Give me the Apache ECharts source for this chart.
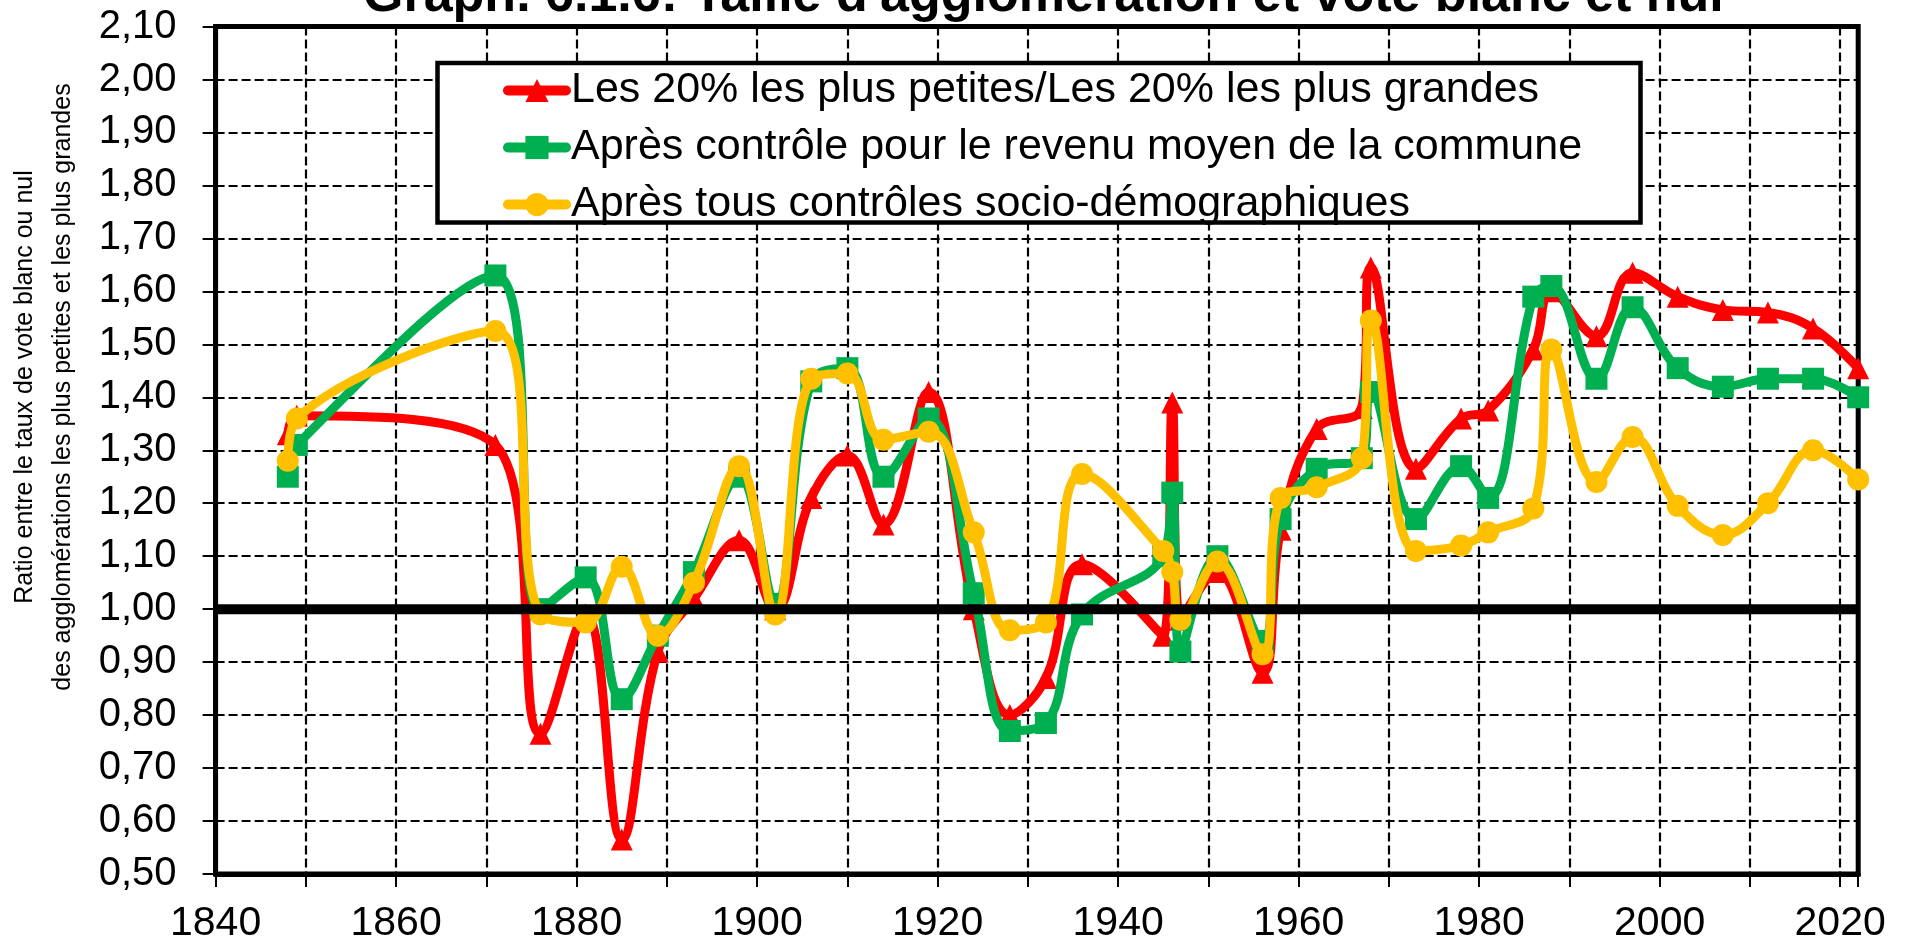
<!DOCTYPE html>
<html lang="fr">
<head>
<meta charset="utf-8">
<title>Taille d'agglomération et vote blanc et nul</title>
<script src="https://cdn.jsdelivr.net/npm/echarts@6/dist/echarts.min.js"></script>
<style>
  html, body { margin: 0; padding: 0; background: #ffffff; }
  #chart { width: 1905px; height: 945px; }
</style>
</head>
<body>
<div id="chart"></div>
<script>
// Élections législatives (1946.9 = novembre 1946)
const years = [1848, 1849, 1871, 1876, 1881, 1885, 1889, 1893, 1898, 1902, 1906, 1910, 1914, 1919, 1924, 1928, 1932, 1936, 1945, 1946, 1946.9, 1951, 1956, 1958, 1962, 1967, 1968, 1973, 1978, 1981, 1986, 1988, 1993, 1997, 2002, 2007, 2012, 2017, 2022];

// Ratio brut : 20% des agglomérations les plus petites / 20% les plus grandes
const petitesGrandes = [1.33, 1.365, 1.31, 0.765, 0.99, 0.565, 0.92, 1.02, 1.13, 1.00, 1.21, 1.29, 1.16, 1.41, 1.00, 0.80, 0.87, 1.085, 0.95, 1.39, 0.98, 1.07, 0.88, 1.15, 1.34, 1.38, 1.645, 1.265, 1.36, 1.375, 1.49, 1.60, 1.515, 1.635, 1.59, 1.565, 1.56, 1.53, 1.455];

// Après contrôle pour le revenu moyen de la commune
const controleRevenu = [1.25, 1.31, 1.63, 1.00, 1.06, 0.83, 0.95, 1.07, 1.25, 1.01, 1.43, 1.455, 1.25, 1.36, 1.03, 0.77, 0.785, 0.99, 1.10, 1.22, 0.92, 1.10, 0.94, 1.17, 1.265, 1.285, 1.41, 1.17, 1.27, 1.21, 1.59, 1.61, 1.435, 1.57, 1.455, 1.42, 1.435, 1.435, 1.40];

// Après tous contrôles socio-démographiques
const tousControles = [1.28, 1.36, 1.525, 0.99, 0.975, 1.08, 0.95, 1.05, 1.27, 0.99, 1.435, 1.445, 1.32, 1.335, 1.145, 0.96, 0.975, 1.255, 1.11, 1.07, 0.98, 1.09, 0.915, 1.21, 1.23, 1.285, 1.545, 1.11, 1.12, 1.145, 1.19, 1.49, 1.24, 1.325, 1.195, 1.14, 1.20, 1.30, 1.245];

const seriesNames = [
  'Les 20% les plus petites/Les 20% les plus grandes',
  'Après contrôle pour le revenu moyen de la commune',
  'Après tous contrôles socio-démographiques'
];

const xRange = [1840, 2022];
const yRange = [0.5, 2.1];
const referenceLevel = 1.0;

const titleText = "Graph. 6.1.6: Taille d'agglomération et vote blanc et nul";
const yTitleLines = [
  'Ratio entre le taux de vote blanc ou nul',
  'des agglomérations les plus petites et les plus grandes'
];

const FONT = "'Liberation Sans', Arial, Helvetica, sans-serif";

const toPairs = values => years.map((y, i) => [y, values[i]]);

function ratioSeries(name, values, color, symbol, z) {
  return {
    name: name,
    type: 'line',
    data: toPairs(values),
    z: z,
    smooth: 0.4,
    clip: false,
    symbol: symbol,
    symbolSize: 22,
    showAllSymbol: true,
    lineStyle: { color: color, width: 9, cap: 'round', join: 'round' },
    itemStyle: { color: color, borderWidth: 0 },
    emphasis: { disabled: true }
  };
}

const chart = echarts.init(document.getElementById('chart'));

const gridDash = { color: '#000', width: 2.2, type: [9, 4] };

const option = {
  animation: false,
  backgroundColor: '#ffffff',
  title: {
    text: titleText,
    left: 363,
    top: -29,
    padding: 0,
    textStyle: { fontSize: 52, fontWeight: 'bold', color: '#000', fontFamily: FONT }
  },
  legend: {
    data: seriesNames,
    orient: 'vertical',
    left: 503,
    top: 69,
    padding: 0,
    itemWidth: 58,
    itemHeight: 29,
    itemGap: 14,
    z: 10,
    selectedMode: false,
    lineStyle: { width: 10 },
    textStyle: { fontSize: 43, lineHeight: 40, color: '#000', fontFamily: FONT }
  },
  grid: {
    left: 215.6,
    right: 46.8,
    top: 26.5,
    bottom: 71,
    show: true,
    borderColor: '#000',
    borderWidth: 5,
    containLabel: false
  },
  xAxis: {
    type: 'value',
    min: xRange[0],
    max: xRange[1],
    interval: 10,
    axisLine: { show: true, onZero: false, lineStyle: { color: '#000', width: 5 } },
    axisTick: { show: true, length: 13, lineStyle: { color: '#000', width: 2 } },
    axisLabel: {
      formatter: v => (v % 20 === 0 ? String(v) : ''),
      fontSize: 41,
      color: '#000',
      fontFamily: FONT,
      margin: 29
    },
    splitLine: { show: true, lineStyle: gridDash }
  },
  yAxis: {
    type: 'value',
    min: yRange[0],
    max: yRange[1],
    interval: 0.1,
    axisLine: { show: true, lineStyle: { color: '#000', width: 5 } },
    axisTick: { show: true, length: 13, lineStyle: { color: '#000', width: 2 } },
    axisLabel: {
      formatter: v => v.toFixed(2).replace('.', ','),
      fontSize: 40,
      color: '#000',
      fontFamily: FONT,
      margin: 39
    },
    splitLine: { show: true, lineStyle: gridDash }
  },
  graphic: [
    {
      type: 'rect',
      z: 8,
      silent: true,
      shape: { x: 437.5, y: 63, width: 1203, height: 159.5 },
      style: { fill: '#ffffff', stroke: '#000', lineWidth: 4.5 }
    },
    {
      type: 'text',
      x: 44,
      y: 387,
      rotation: Math.PI / 2,
      silent: true,
      style: {
        text: yTitleLines.join('\n'),
        fontSize: 25,
        fontFamily: FONT,
        fill: '#000',
        align: 'center',
        verticalAlign: 'middle',
        lineHeight: 38
      }
    }
  ],
  series: [
    ratioSeries(seriesNames[0], petitesGrandes, '#ff0000', 'triangle', 2),
    ratioSeries(seriesNames[1], controleRevenu, '#00b050', 'rect', 3),
    ratioSeries(seriesNames[2], tousControles, '#ffc000', 'circle', 4),
    {
      name: 'Ratio = 1',
      type: 'line',
      data: [[xRange[0], referenceLevel], [xRange[1], referenceLevel]],
      symbol: 'none',
      z: 6,
      silent: true,
      lineStyle: { color: '#000', width: 10 },
      emphasis: { disabled: true }
    }
  ]
};

chart.setOption(option);
</script>
</body>
</html>
